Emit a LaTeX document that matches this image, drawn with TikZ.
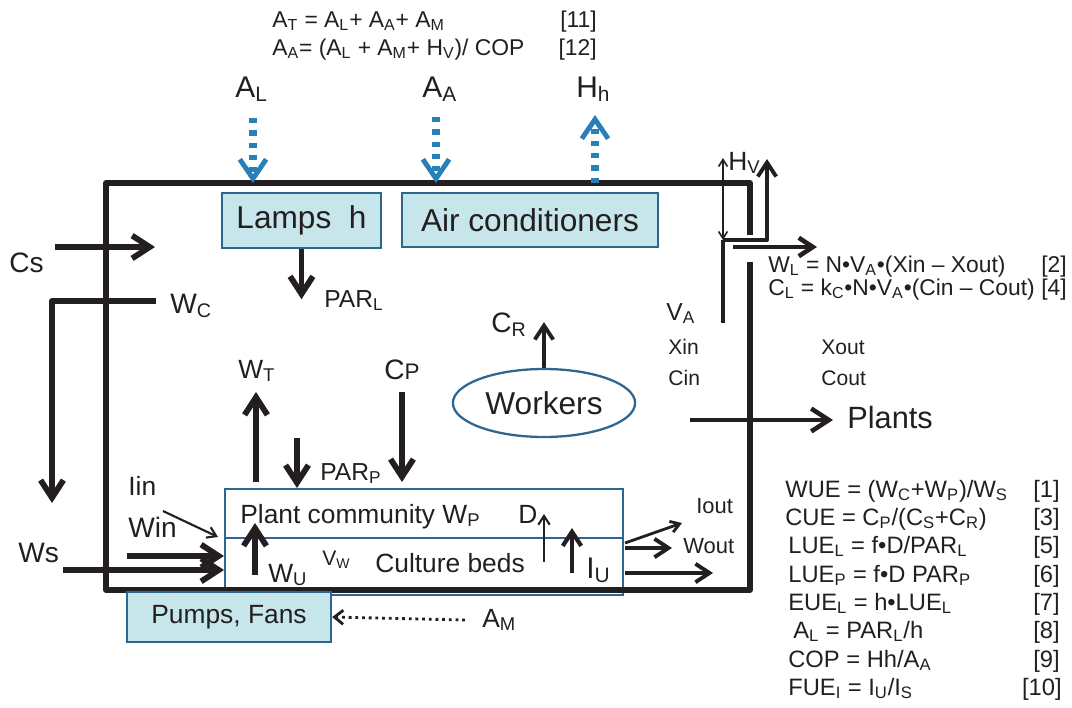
\documentclass[tikz,border=0pt]{standalone}
\usepackage{fontspec}
\setmainfont{Liberation Sans}
\usepackage{graphicx}
\usetikzlibrary{arrows.meta, positioning, shapes.geometric}
\definecolor{bedfill}{HTML}{C7E6EB}
\definecolor{bedline}{HTML}{2F6690}
\definecolor{flowblue}{HTML}{2980B9}
\definecolor{ink}{HTML}{231F20}
\newcommand{\lo}[1]{\textsubscript{#1}}
\newcommand{\sm}[1]{\scalebox{0.8}{#1}}

\begin{document}
\begin{tikzpicture}[x=0.02cm, y=-0.02cm, color=ink, text=ink,
    wall/.style={line width=3.1pt, line join=round},
    unit/.style={draw=bedline, fill=bedfill, line width=1.4pt,
                 font=\fontsize{18}{20}\selectfont},
    bed/.style={draw=bedline, line width=1.3pt, minimum width=7.96cm},
    flow/.style={line width=3.3pt, line join=round, -{Straight Barb[length=10pt,width=13pt]}},
    midflow/.style={line width=2.2pt, -{Straight Barb[length=8pt,width=10.5pt]}},
    thinflow/.style={line width=1.2pt, -{Straight Barb[length=5pt,width=6.5pt]}},
    energy/.style={flowblue, line width=4pt, dash pattern=on 3pt off 4pt,
                   -{Straight Barb[length=11pt,width=15pt,line width=2.8pt]}},
    lbl/.style={anchor=base west, inner sep=0pt, font=\fontsize{#1}{#1}\selectfont},
    lbl/.default=15,
    eqn/.style={anchor=base west, inner sep=0pt, font=\fontsize{#1}{#1}\selectfont},
    eqn/.default=13.5,
    eqno/.style={anchor=base east, inner sep=0pt, font=\fontsize{#1}{#1}\selectfont},
    eqno/.default=13.5,
]
\useasboundingbox (0,0) rectangle (1072,707);

% beds
\node[bed, minimum height=0.98cm] (plant) at (424,513.5) {};
\node[bed, minimum height=1.14cm] (beds)  at (424,566.5) {};

% room
\draw[wall] (750,235) -- (750,183) -- (106,183) -- (106,590) -- (750,590) -- (750,262);

\node[unit, minimum width=3.18cm, minimum height=1.1cm]  (lamps)  at (301.5,220.5) {Lamps\ \ h};
\node[unit, minimum width=5.12cm, minimum height=1.08cm] (aircon) at (530,220) {Air conditioners};
\node[unit, minimum width=4.08cm, minimum height=1cm, font=\fontsize{15}{15}\selectfont]
     (pumps) at (229,617) {Pumps, Fans};
\node[ellipse, draw=bedline, line width=1.3pt, minimum width=2.8cm, minimum height=1.36cm,
      font=\fontsize{18}{18}\selectfont] (workers) at (544,403) {Workers};

% top equations
\node[eqn=13] (eqat) at (272,27) {A\lo{T} = A\lo{L}+ A\lo{A}+ A\lo{M}};
\node[eqno=13] (n11) at (597,27) {[11]};
\node[eqn=13] (eqaa) at (272,55) {A\lo{A}= (A\lo{L} + A\lo{M}+ H\lo{V})/ COP};
\node[eqno=13] (n12) at (597,55) {[12]};

% energy in and out
\node[lbl=17] (al) at (235,97) {A\lo{L}};
\node[lbl=17] (aa) at (422,97) {A\lo{A}};
\node[lbl=17] (hh) at (576,97) {H\lo{h}};
\coordinate (alin) at (253,118);
\coordinate (alend) at (253,183);
\coordinate (aain) at (436,117);
\coordinate (aaend) at (436,183);
\coordinate (hhin) at (595,183);
\coordinate (hhend) at (595,115);
\draw[energy] (alin) -- (alend);
\draw[energy] (aain) -- (aaend);
\draw[energy] (hhin) -- (hhend);

% lamps light
\node[lbl=14] (parl) at (324,307) {PAR\lo{L}};
\draw[flow] (lamps.south) -- ++(0,50);

% left side flows
\node[lbl=16] (cs) at (9,272) {Cs};
\coordinate (csin) at (55,247);
\coordinate (csend) at (155,247);
\draw[flow] (csin) -- (csend);
\node[lbl=16] (wc) at (170,313) {W\lo{C}};
\coordinate (wcin) at (156,301);
\coordinate (wcbend) at (52,301);
\coordinate (wcend) at (52,503);
\draw[flow] (wcin) -- (wcbend) -- (wcend);
\node[lbl=16] (ws) at (18,562) {Ws};
\node[lbl=16] (win) at (128,537) {Win};
\node[lbl=15] (iin) at (128,495) {Iin};
\coordinate (wsin) at (63,570);
\coordinate (wsend) at (224,570);
\coordinate (winin) at (127,556);
\coordinate (winend) at (224,556);
\coordinate (iinin) at (163,511);
\coordinate (iinend) at (218,537);
\draw[flow] (wsin) -- (wsend);
\draw[flow] (winin) -- (winend);
\draw[thinflow] (iinin) -- (iinend);

% plants and beds
\node[lbl] (plantlbl) at (240,523) {Plant community W\lo{P}};
\node[lbl] (dlbl) at (518,523) {D};
\node[lbl] (bedlbl) at (375,572) {Culture beds};
\node[lbl=12] (vw) at (322,565) {V\lo{W}};
\node[lbl] (wu) at (268,582) {W\lo{U}};
\node[lbl=17] (iu) at (586,578) {I\lo{U}};
\coordinate (wuin) at (255,575);
\coordinate (wuend) at (255,523);
\coordinate (din) at (544,562);
\coordinate (dend) at (544,514);
\coordinate (iuin) at (572,573);
\coordinate (iuend) at (572,528);
\draw[flow] (wuin) -- (wuend);
\draw[thinflow] (din) -- (dend);
\draw[midflow, line width=2.4pt] (iuin) -- (iuend);

\node[lbl] (wt) at (238,378) {W\lo{T}};
\node[lbl=14] (parp) at (320,480) {PAR\lo{P}};
\node[lbl=16] (cp) at (384,379) {C\sm{P}};
\coordinate (wtin) at (256,482);
\coordinate (wtend) at (256,392);
\coordinate (parpin) at (297,438);
\coordinate (parpend) at (297,488);
\coordinate (cpin) at (402,392);
\coordinate (cpend) at (402,482);
\draw[flow] (wtin) -- (wtend);
\draw[flow] (parpin) -- (parpend);
\draw[flow] (cpin) -- (cpend);

\node[lbl=16] (cr) at (491,332) {C\lo{R}};
\coordinate (crend) at (544,322);
\draw[midflow] (workers.north) -- (crend);

% outputs
\node[lbl=12.5] (iout) at (696,513) {Iout};
\node[lbl=12.5] (wout) at (683,553) {Wout};
\coordinate (ioutin) at (625,543);
\coordinate (ioutend) at (682,523);
\coordinate (woutin) at (625,548);
\coordinate (woutend) at (672,548);
\coordinate (drainin) at (625,573);
\coordinate (drainend) at (713,573);
\draw[thinflow, line width=1.6pt] (ioutin) -- (ioutend);
\draw[midflow] (woutin) -- (woutend);
\draw[midflow] (drainin) -- (drainend);

\node[lbl=17.5] (plants) at (847,428) {Plants};
\coordinate (plin) at (690,420);
\coordinate (plend) at (833,420);
\draw[midflow, line width=2.6pt, -{Straight Barb[length=10pt,width=13pt]}] (plin) -- (plend);

% ventilation
\node[lbl=14] (va) at (666,320) {V\lo{A}};
\node[lbl=12] (xin) at (668,354) {Xin};
\node[lbl=12] (cin) at (668,385) {Cin};
\node[lbl=12] (xout) at (821,354) {Xout};
\node[lbl=12] (cout) at (821,385) {Cout};
\node[lbl] (hv) at (728,170) {H\lo{V}};
\coordinate (vtop) at (723,158);
\coordinate (vjoin) at (723,240);
\coordinate (vbot) at (723,323);
\coordinate (hvbend) at (767,240);
\coordinate (hvend) at (767,159);
\coordinate (wlin) at (733,247);
\coordinate (wlend) at (817,247);
\draw[line width=0.9pt, {Straight Barb[length=4pt,width=5pt]}-{Straight Barb[length=4pt,width=5pt]}] (vjoin) -- (vtop);
\draw[line width=1.8pt] (vjoin) -- (vbot);
\draw[midflow, line join=round] (vjoin) -- (hvbend) -- (hvend);
\draw[midflow, line width=2.6pt] (wlin) -- (wlend);

\node[eqn=13] (eqwl) at (768,272) {W\lo{L} = N•V\lo{A}•(Xin – Xout)};
\node[eqno=13] (n2) at (1067,272) {[2]};
\node[eqn=13] (eqcl) at (768,295) {C\lo{L} = k\lo{C}•N•V\lo{A}•(Cin – Cout)};
\node[eqno=13] (n4) at (1067,295) {[4]};

% efficiencies
\node[eqn] (eqwue) at (785,497) {WUE = (W\lo{C}+W\lo{P})/W\lo{S}};
\node[eqno] (n1) at (1060,497) {[1]};
\node[eqn] (eqcue) at (785,525) {CUE = C\lo{P}/(C\lo{S}+C\lo{R})};
\node[eqno] (n3) at (1060,525) {[3]};
\node[eqn] (eqluel) at (788,553) {LUE\lo{L} = f•D/PAR\lo{L}};
\node[eqno] (n5) at (1060,553) {[5]};
\node[eqn] (eqluep) at (788,582) {LUE\lo{P} = f•D PAR\lo{P}};
\node[eqno] (n6) at (1060,582) {[6]};
\node[eqn] (eqeuel) at (788,610) {EUE\lo{L} = h•LUE\lo{L}};
\node[eqno] (n7) at (1060,610) {[7]};
\node[eqn] (eqal) at (793,638) {A\lo{L} = PAR\lo{L}/h};
\node[eqno] (n8) at (1060,638) {[8]};
\node[eqn] (eqcop) at (788,667) {COP = Hh/A\lo{A}};
\node[eqno] (n9) at (1060,667) {[9]};
\node[eqn] (eqfue) at (788,695) {FUE\lo{I} = I\lo{U}/I\lo{S}};
\node[eqno] (n10) at (1062,695) {[10]};

% machines
\node[lbl] (am) at (482,627) {A\lo{M}};
\coordinate (amin) at (465,620);
\draw[line width=1.6pt, dash pattern=on 1.6pt off 2.2pt,
      -{Straight Barb[length=5pt,width=8pt,line width=1.6pt]}] (amin) -- (pumps.east);
\end{tikzpicture}
\end{document}
